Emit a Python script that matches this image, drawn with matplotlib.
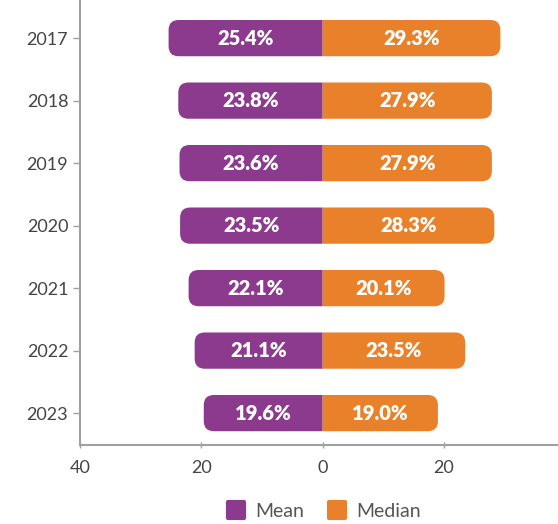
import matplotlib.pyplot as plt
from matplotlib.patches import PathPatch
from matplotlib.path import Path
from matplotlib.lines import Line2D
from matplotlib.markers import MarkerStyle

years = ["2017", "2018", "2019", "2020", "2021", "2022", "2023"]
mean_vals = [25.4, 23.8, 23.6, 23.5, 22.1, 21.1, 19.6]
median_vals = [29.3, 27.9, 27.9, 28.3, 20.1, 23.5, 19.0]

purple = "#8c3a8e"
orange = "#e8812a"

plt.rcParams["font.family"] = ["Lato", "DejaVu Sans"]

fig = plt.figure(figsize=(5.58, 5.24), dpi=100)
ax = fig.add_axes([0.1434, 0.1508, 0.8566, 0.8492])

bar_h = 0.58
ax.set_xlim(-40, 38.8)
ax.set_ylim(6.51, -0.61)

# corner radius: ~10 px in each direction
rx = 10 / 6.05
ry = 10 / 62.5


def outer_round_bar(y, val):
    # bar from 0 to val, only the far end rounded
    s = 1 if val >= 0 else -1
    top, bot = y - bar_h / 2, y + bar_h / 2
    e = val
    verts = [(0, top), (e - s * rx, top), (e, top), (e, top + ry),
             (e, bot - ry), (e, bot), (e - s * rx, bot), (0, bot), (0, top)]
    codes = [Path.MOVETO, Path.LINETO, Path.CURVE3, Path.CURVE3,
             Path.LINETO, Path.CURVE3, Path.CURVE3, Path.LINETO, Path.CLOSEPOLY]
    return Path(verts, codes)


for i, (m, md) in enumerate(zip(mean_vals, median_vals)):
    for val, col in [(-m, purple), (md, orange)]:
        ax.add_patch(PathPatch(outer_round_bar(i, val), facecolor=col,
                               edgecolor="none", zorder=2))
        ax.text(val / 2, i, f"{abs(val):.1f}%", ha="center", va="center",
                color="white", fontsize=14.5, fontweight="heavy", zorder=3)

ax.set_yticks(range(len(years)))
ax.set_yticklabels(years)
ax.set_xticks([-40, -20, 0, 20])
ax.set_xticklabels(["40", "20", "0", "20"])

for s in ["top", "right"]:
    ax.spines[s].set_visible(False)
for s in ["left", "bottom"]:
    ax.spines[s].set_color("#a0a0a0")
    ax.spines[s].set_linewidth(1.5)
ax.tick_params(axis="both", colors="#a0a0a0", labelcolor="#444444",
               labelsize=13, length=5, width=1)
ax.tick_params(axis="x", direction="inout", pad=8)

mk = MarkerStyle("s", joinstyle="round")
handles = [
    Line2D([], [], linestyle="none", marker=mk, markersize=11,
           markerfacecolor=purple, markeredgecolor=purple, markeredgewidth=3),
    Line2D([], [], linestyle="none", marker=mk, markersize=11,
           markerfacecolor=orange, markeredgecolor=orange, markeredgewidth=3),
]
ax.legend(handles, ["Mean", "Median"], loc="upper center",
          bbox_to_anchor=(0.51, -0.09), ncol=2, frameon=False,
          fontsize=14, handlelength=1.0, handletextpad=0.5,
          columnspacing=1.2, labelcolor="#555555")

fig.savefig("out.png", dpi=100)
